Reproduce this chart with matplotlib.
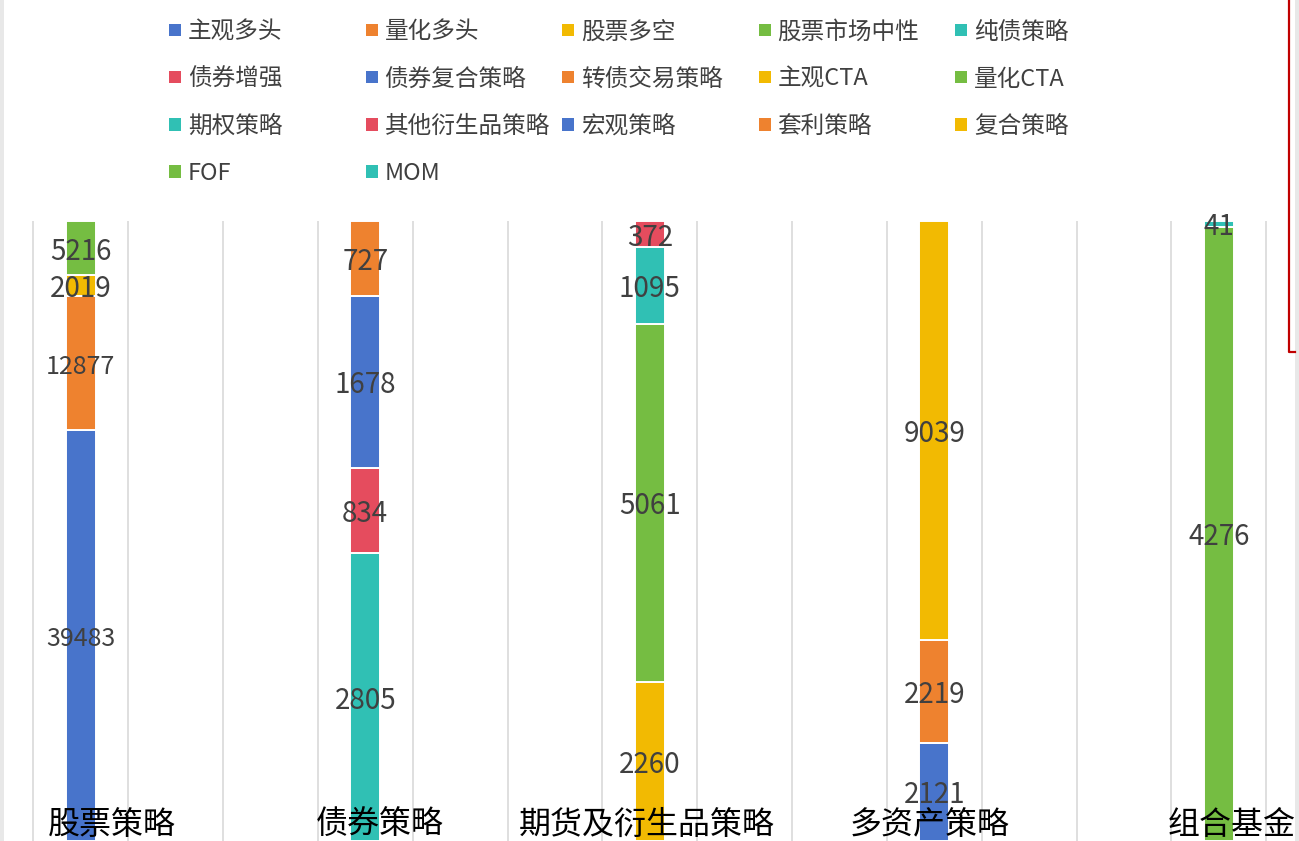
import matplotlib
matplotlib.use("Agg")
import matplotlib.pyplot as plt
from matplotlib.patches import Rectangle
from matplotlib.lines import Line2D

plt.rcParams["font.family"] = ["Noto Sans CJK SC", "DejaVu Sans"]

# ---- 数据 ----
categories = ["股票策略", "债券策略", "期货及衍生品策略", "多资产策略", "组合基金"]

stock_names = ["主观多头", "量化多头", "股票多空", "股票市场中性"]
stock_values = [39483, 12877, 2019, 5216]
bond_names = ["纯债策略", "债券增强", "债券复合策略", "转债交易策略"]
bond_values = [2805, 834, 1678, 727]
futures_names = ["主观CTA", "量化CTA", "期权策略", "其他衍生品策略"]
futures_values = [2260, 5061, 1095, 372]
multi_names = ["宏观策略", "套利策略", "复合策略"]
multi_values = [2121, 2219, 9039]
fof_names = ["FOF", "MOM"]
fof_values = [4276, 41]

groups = [(stock_names, stock_values), (bond_names, bond_values),
          (futures_names, futures_values), (multi_names, multi_values),
          (fof_names, fof_values)]

PALETTE = ["#4874CB", "#EE822F", "#F2BA02", "#75BD42", "#30C0B4", "#E54C5E"]
TXT = "#404040"

W, H = 1299, 841
fig = plt.figure(figsize=(W / 100, H / 100), dpi=100)
fig.patch.set_facecolor("white")

# 绘图区(截图被裁切,绘图区延伸到画布外)
cat_w = 284.5
left_px = 80.75 - cat_w / 2
top_px = 221
ax = fig.add_axes([left_px / W, 0, cat_w * 5 / W, (H - top_px) / H])
ax.set_xlim(-0.5, 4.5)
ax.set_ylim(0, 1)
for s in ax.spines.values():
    s.set_visible(False)
ax.set_xticks([])
ax.set_yticks([])
ax.set_facecolor("none")

for k in range(16):
    ax.axvline(-0.5 + k / 3, color="#d9d9d9", lw=1.2, zorder=0)

# 100% 堆积柱
legend_items = []
ci = 0
for i, (names, vals) in enumerate(groups):
    total = sum(vals)
    bottom = 0.0
    for name, v in zip(names, vals):
        frac = v / total
        col = PALETTE[ci % len(PALETTE)]
        ax.bar(i, frac, bottom=bottom, width=0.106, color=col,
               edgecolor="white", linewidth=1.4, zorder=2)
        fs = 18 if v >= 10000 else 20
        ax.annotate(str(v), (i, bottom + frac / 2), xytext=(0, -2.5),
                    textcoords="offset points", ha="center", va="center",
                    fontsize=fs, color=TXT, zorder=3, annotation_clip=False)
        legend_items.append((name, col))
        bottom += frac
        ci += 1

# 分类标签(与柱底重叠)
label_px = [112, 380, 647, 930, 1232]
for name, px in zip(categories, label_px):
    fig.text(px / W, 1 - 825 / H, name, ha="center", va="center",
             fontsize=23, color="black")

# 图例(5 列,按行排列)
col_x = [169, 365.5, 562, 758.5, 955]
row_y = [30, 77, 124.5, 171.5]
for j, (name, col) in enumerate(legend_items):
    r, c = divmod(j, 5)
    x, y = col_x[c], row_y[r]
    fig.add_artist(Rectangle((x / W, 1 - (y + 6) / H), 12 / W, 12 / H,
                             transform=fig.transFigure, color=col, lw=0))
    fig.text((x + 19) / W, 1 - (y + 2) / H, name, ha="left", va="center",
             fontsize=17, color=TXT)

# 截图边缘元素
fig.add_artist(Rectangle((0, 0), 4 / W, 1, transform=fig.transFigure,
                         color="#e8e8e8", lw=0))
fig.add_artist(Rectangle((1295 / W, 0), 4 / W, 1, transform=fig.transFigure,
                         color="#e8e8e8", lw=0))
fig.add_artist(Line2D([1289 / W, 1289 / W, 1295 / W],
                      [1, 1 - 352 / H, 1 - 352 / H],
                      transform=fig.transFigure, color="#c00000", lw=1.6))

fig.savefig("out.png", dpi=100)
